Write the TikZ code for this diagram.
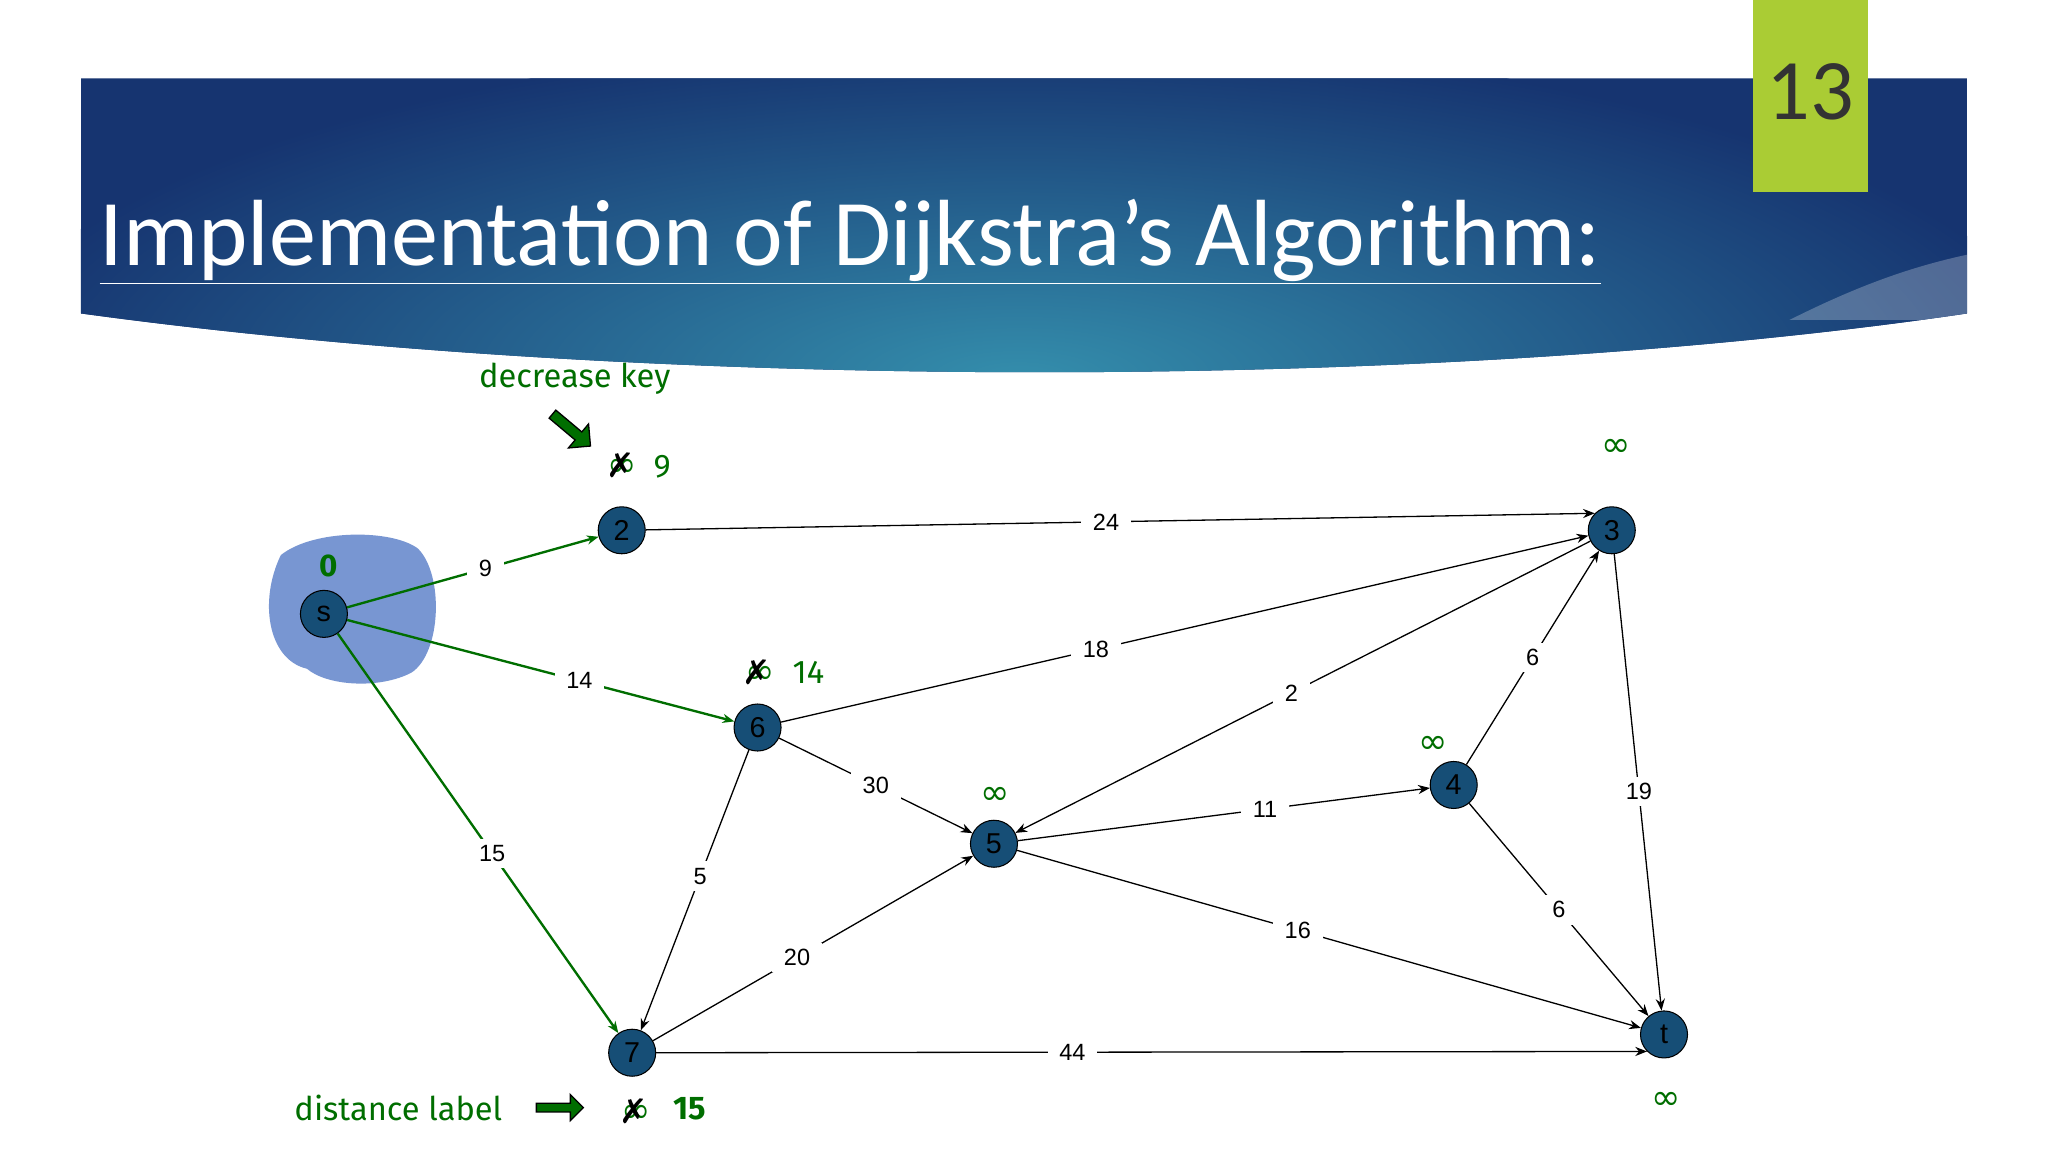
\documentclass[tikz,border=0pt]{standalone}
\usepackage{fontspec}
\setmainfont{Carlito}
\newfontfamily\djv{DejaVu Sans}
\newfontfamily\lib{Liberation Sans}
\newfontfamily\cmc{Fira Sans}
\usetikzlibrary{shapes.arrows,arrows.meta}
\definecolor{navy}{RGB}{22,52,112}
\definecolor{teal2}{RGB}{52,142,172}
\definecolor{lime}{RGB}{170,204,52}
\definecolor{nodeb}{RGB}{22,78,118}
\definecolor{gg}{RGB}{0,110,0}
\definecolor{blob}{RGB}{120,150,210}
\begin{document}
\begin{tikzpicture}[x=1pt,y=-1pt,
  vert/.style={circle,draw=black,thick,fill=nodeb,minimum size=36pt,inner sep=0pt,text=black,font=\lib\fontsize{22}{22}\selectfont},
  edge/.style={-{Stealth[length=9pt,width=7pt]},line width=1pt},
  gedge/.style={edge,draw=gg,line width=1.8pt},
  elab/.style={fill=white,inner xsep=9pt,inner ysep=5pt,font=\lib\fontsize{18}{18}\selectfont},
  glab/.style={text=gg,font=\cmc\fontsize{25}{25}\selectfont},
  inf/.style={text=gg,font=\djv\fontsize{27}{27}\selectfont},
  xx/.style={font=\djv\fontsize{26}{26}\selectfont},
  garrow/.style={single arrow,draw=black,fill=gg,line width=1pt,minimum height=38pt,minimum width=24pt,single arrow head extend=5pt,inner sep=2pt}]
\useasboundingbox (0,0) rectangle (1568,882);
\fill[white] (0,0) rectangle (1568,882);
% banner
\begin{scope}
\clip (62,60) -- (1506,60) -- (1506,240) .. controls (1100,300) and (500,300) .. (62,240) -- cycle;
\fill[navy] (62,60) rectangle (1506,300);
\shade[inner color=teal2,outer color=navy] (780,290) ellipse (800pt and 260pt);
\fill[white,opacity=0.25] (1506,195) .. controls (1460,205) and (1420,220) .. (1370,245) -- (1506,245) -- cycle;
\end{scope}
\node[anchor=base west,text=white,inner sep=0pt,font=\fontsize{72}{72}\selectfont] (title) at (76,203) {\underline{Implementa{t}{i}on of Dijkstra\symbol{39}s Algorithm:}};
\fill[lime] (1342,0) rectangle (1430,147);
\node[text=black!80,font=\fontsize{66}{66}\selectfont] (num) at (1386,70) {13};
% blob
\fill[blob] (215,425) .. controls (240,405) and (300,405) .. (320,420)
  .. controls (340,440) and (338,500) .. (315,515) .. controls (290,528) and (250,525) .. (235,512)
  .. controls (205,505) and (198,460) .. (215,425) -- cycle;
% nodes
\node[vert] (s) at (248,470) {s};
\node[vert] (n2) at (476,406) {2};
\node[vert] (n3) at (1234,406) {3};
\node[vert] (n6) at (580,557) {6};
\node[vert] (n5) at (761,646) {5};
\node[vert] (n4) at (1113,601) {4};
\node[vert] (n7) at (484,806) {7};
\node[vert] (t) at (1274,792) {t};
% edges
\draw[gedge] (s) -- node[elab,pos=0.55]{9} (n2);
\draw[gedge] (s) -- node[elab,pos=0.6]{14} (n6);
\draw[gedge] (s) -- node[elab,pos=0.55]{15} (n7);
\draw[edge] (n2) -- node[elab,pos=0.485]{24} (n3.north west);
\draw[edge] (n6) -- node[elab,pos=0.39]{18} (n3);
\draw[edge] (n6) -- node[elab,pos=0.5]{30} (n5);
\draw[edge] (n6) -- node[elab,pos=0.45]{5} (n7);
\draw[edge] (n3) -- node[elab,pos=0.52]{2} (n5);
\draw[edge] (n5) -- node[elab,pos=0.6]{11} (n4);
\draw[edge] (n4) -- node[elab,pos=0.5]{6} (n3);
\draw[edge] (n3) -- node[elab,pos=0.52]{19} (t);
\draw[edge] (n4) -- node[elab,pos=0.5]{6} (t);
\draw[edge] (n5) -- node[elab,pos=0.45]{16} (t);
\draw[edge] (n7) -- node[elab,pos=0.45]{20} (n5);
\draw[edge] (n7.east) -- node[elab,pos=0.42]{44} (t.south west);
% labels
\node[text=gg,font=\cmc\bfseries\fontsize{24}{24}\selectfont] (d0) at (252,433) {0};
\node[inf] (i2) at (476,358) {∞}; \node[xx] (x2) at (475,356) {✗};
\node[glab] (v2) at (507,357) {9};
\node[inf] (i6) at (582,517) {∞}; \node[xx] (x6) at (579,515) {✗};
\node[glab] (v6) at (619,515) {14};
\node[inf] (i7) at (487,853) {∞}; \node[xx] (x7) at (485,851) {✗};
\node[glab,font=\cmc\bfseries\fontsize{25}{25}\selectfont] (v7) at (528,849) {15};
\node[inf] (i3) at (1237,343) {∞};
\node[inf] (i4) at (1097,570) {∞};
\node[inf] (i5) at (762,609) {∞};
\node[inf] (it) at (1276,843) {∞};
\node[glab] (dk) at (440,290) {decrease key};
\node[glab] (dl) at (305,848) {distance label};
\node[garrow,rotate=-40] (a1) at (436,328) {};
\node[garrow,minimum height=36pt,minimum width=20pt] (a2) at (427,848) {};
\end{tikzpicture}
\end{document}
